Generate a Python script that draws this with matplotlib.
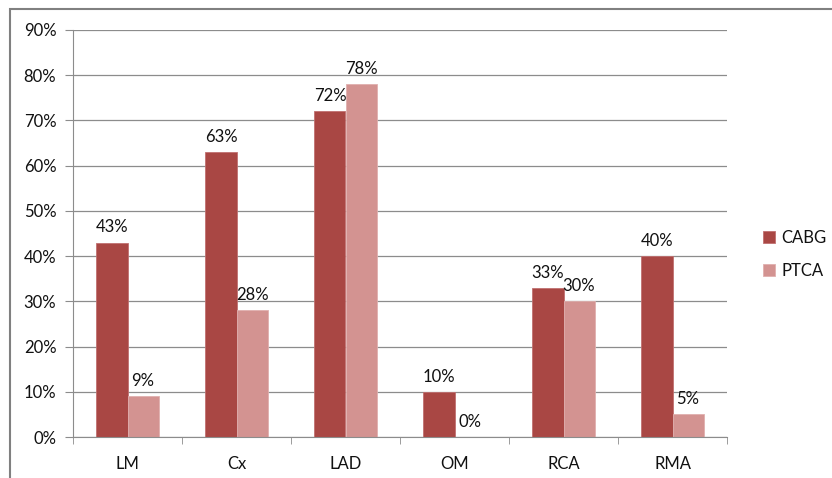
import matplotlib
matplotlib.use("Agg")
import matplotlib.pyplot as plt
from matplotlib.patches import Rectangle
import numpy as np

categories = ["LM", "Cx", "LAD", "OM", "RCA", "RMA"]
cabg = [43, 63, 72, 10, 33, 40]
ptca = [9, 28, 78, 0, 30, 5]
series_names = ["CABG", "PTCA"]
yticks = list(range(0, 100, 10))

plt.rcParams['font.family'] = ['Lato', 'DejaVu Sans']
plt.rcParams['text.color'] = '#111111'
plt.rcParams['xtick.labelcolor'] = '#111111'
plt.rcParams['ytick.labelcolor'] = '#111111'
W, H = 832, 478
fs = 12
fig = plt.figure(figsize=(W/100, H/100), dpi=100)
ax = fig.add_axes([73/W, 1-437/H, (727-73)/W, (437-30)/H])

x = np.arange(len(categories))
bw = 0.285
c1, c2 = "#A94744", "#D39391"
b1 = ax.bar(x - bw/2, cabg, bw, color=c1, edgecolor="#C07070", linewidth=0.6, label=series_names[0], zorder=3)
b2 = ax.bar(x + bw/2, ptca, bw, color=c2, edgecolor="#E0B0AE", linewidth=0.6, label=series_names[1], zorder=3)
for xs, vals in ((x - bw/2, cabg), (x + bw/2, ptca)):
    for xi, v in zip(xs, vals):
        ax.text(xi, v + 1.6, f"{v}%", ha="center", va="bottom", fontsize=fs)

ax.set_xlim(-0.5, len(categories) - 0.5)
ax.set_ylim(0, 90)
ax.set_yticks(yticks)
ax.set_yticklabels([f"{t}%" for t in yticks], fontsize=fs)
ax.yaxis.grid(True, color="#8c8c8c", linewidth=0.9, zorder=0)
ax.set_xticks(x)
ax.set_xticklabels(categories, fontsize=fs)
ax.set_xticks(np.arange(-0.5, len(categories)), minor=True)
ax.tick_params(axis="x", which="major", length=0, pad=14)
ax.tick_params(axis="x", which="minor", length=5, color="#8c8c8c", direction="out")
ax.tick_params(axis="y", length=6, color="#8c8c8c", pad=6)
for s in ["top", "right"]:
    ax.spines[s].set_visible(False)
ax.spines["left"].set_color("#8c8c8c")
ax.spines["bottom"].set_color("#8c8c8c")
ax.spines["bottom"].set_zorder(4)

leg = fig.legend(handles=[b1, b2], loc="upper left", bbox_to_anchor=(748/W, 1-215/H),
                 frameon=False, fontsize=fs, handlelength=0.7, handleheight=0.7,
                 handletextpad=0.4, labelspacing=1.0)

fig.patches.append(Rectangle((10/W, -0.1), 1.2, 1 - 9/H + 0.1, transform=fig.transFigure,
                             fill=False, edgecolor="#808080", linewidth=1.5))
fig.savefig("out.png", dpi=100)
